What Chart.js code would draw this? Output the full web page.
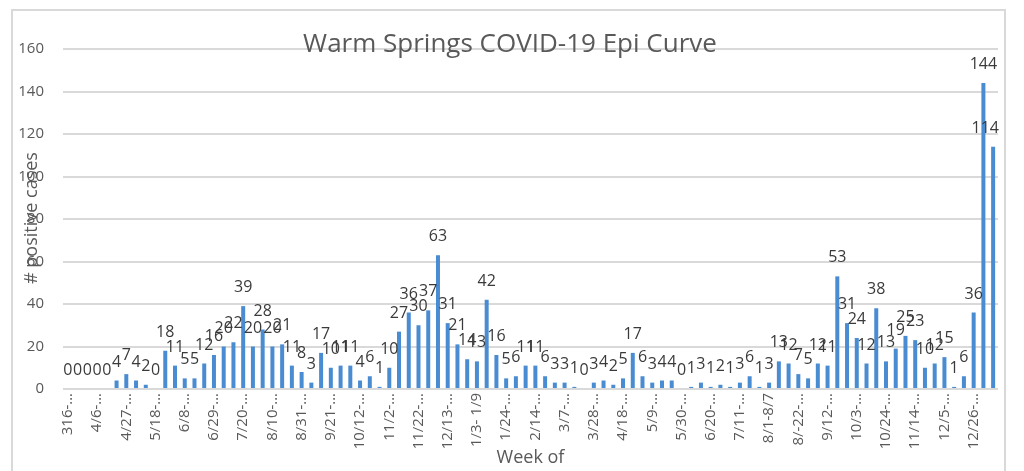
<!DOCTYPE html>
<html>
<head>
<meta charset="utf-8">
<title>Warm Springs COVID-19 Epi Curve</title>
<script src="https://cdn.jsdelivr.net/npm/chart.js@4/dist/chart.umd.min.js"></script>
<style>
  body { margin: 0; background: #fff; }
</style>
</head>
<body>
<canvas id="epiChart" width="1024" height="471"></canvas>
<script>
// labels shown under the axis (one every third week)
const tickLabels = [
    '316-…', '4/6-…', '4/27-…', '5/18-…', '6/8-…', '6/29-…', '7/20-…', '8/10-…',
    '8/31-…', '9/21-…', '10/12-…', '11/2-…', '11/22-…', '12/13-…', '1/3- 1/9', '1/24-…',
    '2/14-…', '3/7-…', '3/28-…', '4/18-…', '5/9-…', '5/30-…', '6/20-…', '7/11-…',
    '8/1-8/7', '8/-22-…', '9/12-…', '10/3-…', '10/24-…', '11/14-…', '12/5-…', '12/26-…'
];

// positive cases per week
const weeklyCases = [
    0, 0, 0, 0, 0, 4, 7, 4, 2, 0,
    18, 11, 5, 5, 12, 16, 20, 22, 39, 20,
    28, 20, 21, 11, 8, 3, 17, 10, 11, 11,
    4, 6, 1, 10, 27, 36, 30, 37, 63, 31,
    21, 14, 13, 42, 16, 5, 6, 11, 11, 6,
    3, 3, 1, 0, 3, 4, 2, 5, 17, 6,
    3, 4, 4, 0, 1, 3, 1, 2, 1, 3,
    6, 1, 3, 13, 12, 7, 5, 12, 11, 53,
    31, 24, 12, 38, 13, 19, 25, 23, 10, 12,
    15, 1, 6, 36, 144, 114
];

const chartTitle = 'Warm Springs COVID-19 Epi Curve';
const yTitle = '# positive cases';
const xTitle = 'Week of';

// one category per week, only every third one gets its label
const weeks = weeklyCases.map((v, i) => (i % 3 === 0 && tickLabels[i / 3]) ? tickLabels[i / 3] : '');

const textColor = '#595959';
const fontName = '"Open Sans", "DejaVu Sans", sans-serif';

// frame + white background
const frame = {
    id: 'frame',
    beforeDraw(chart) {
        const ctx = chart.ctx;
        ctx.save();
        ctx.fillStyle = '#fff';
        ctx.fillRect(0, 0, chart.width, chart.height);
        ctx.strokeStyle = '#d9d9d9';
        ctx.lineWidth = 2;
        ctx.strokeRect(12, 10, 993, 480);
        ctx.restore();
    }
};

// numbers above the bars
const valueLabels = {
    id: 'valueLabels',
    afterDatasetsDraw(chart) {
        const ctx = chart.ctx;
        const meta = chart.getDatasetMeta(0);
        const right = chart.chartArea.right + 1;
        ctx.save();
        ctx.font = '16px ' + fontName;
        ctx.fillStyle = '#3a3a3a';
        ctx.textAlign = 'center';
        ctx.textBaseline = 'alphabetic';
        meta.data.forEach((bar, i) => {
            const text = String(weeklyCases[i]);
            const w = ctx.measureText(text).width;
            let x = bar.x;
            if (x + w / 2 > right) x = right - w / 2;
            ctx.fillText(text, x, bar.y - 14);
        });
        ctx.restore();
    }
};

// chart title and y axis title sit over the plot like in the excel export
const titles = {
    id: 'titles',
    afterDraw(chart) {
        const ctx = chart.ctx;
        ctx.save();
        ctx.fillStyle = textColor;
        ctx.textAlign = 'center';
        ctx.textBaseline = 'alphabetic';
        ctx.font = '26px ' + fontName;
        ctx.fillText(chartTitle, 510, 52);

        ctx.translate(32, 218);
        ctx.rotate(-Math.PI / 2);
        ctx.textBaseline = 'middle';
        ctx.font = '18px ' + fontName;
        ctx.fillText(yTitle, 0, 0);
        ctx.restore();
    }
};

new Chart(document.getElementById('epiChart'), {
    type: 'bar',
    data: {
        labels: weeks,
        datasets: [{
            label: 'Cases',
            data: weeklyCases,
            backgroundColor: '#4a8cd2',
            barThickness: 4,
            inflateAmount: 0
        }]
    },
    options: {
        responsive: false,
        animation: false,
        layout: { padding: { top: 49, right: 26, left: 0, bottom: 0 } },
        plugins: {
            legend: { display: false },
            tooltip: { enabled: false }
        },
        scales: {
            x: {
                grid: { display: false, drawTicks: false },
                border: { display: false },
                ticks: {
                    autoSkip: false,
                    minRotation: 90,
                    maxRotation: 90,
                    padding: 4,
                    color: textColor,
                    font: { family: fontName, size: 15 }
                },
                title: {
                    display: true,
                    text: xTitle,
                    color: textColor,
                    font: { family: fontName, size: 18 },
                    padding: { top: 0, bottom: 2 }
                },
                afterFit: (scale) => { scale.height = 82; }
            },
            y: {
                min: 0,
                max: 160,
                grid: { color: '#d9d9d9', lineWidth: 2, drawTicks: false },
                border: { display: false },
                ticks: {
                    stepSize: 20,
                    padding: 19,
                    color: textColor,
                    font: { family: fontName, size: 15 }
                },
                afterFit: (scale) => { scale.width = 63; }
            }
        }
    },
    plugins: [frame, valueLabels, titles]
});
</script>
</body>
</html>
